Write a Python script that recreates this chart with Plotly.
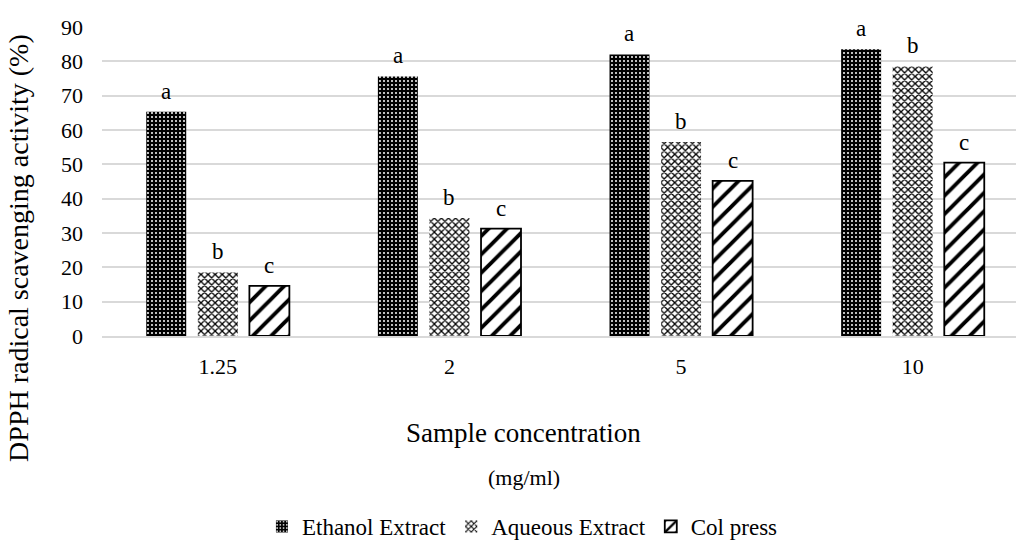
import plotly.graph_objects as go

# Sample concentrations (mg/ml)
concentrations = ["1.25", "2", "5", "10"]

# DPPH radical scavenging activity (%)
ethanol_extract = [65.3, 75.6, 82.0, 83.5]
aqueous_extract = [18.5, 34.4, 56.5, 78.6]
col_press = [14.6, 31.3, 45.2, 50.5]

# Significance letters shown above each bar
ethanol_letters = ["a", "a", "a", "a"]
aqueous_letters = ["b", "b", "b", "b"]
col_press_letters = ["c", "c", "c", "c"]

FONT = "Liberation Serif"
TEXT_COLOR = "#000000"
GRID_COLOR = "#d9d9d9"

BARGAP = 0.332
SLOT = (1 - BARGAP) / 3

fig = go.Figure()

fig.add_trace(go.Bar(
    name="Ethanol Extract",
    x=concentrations,
    y=ethanol_extract,
    marker=dict(
        color="#000000",
        line=dict(width=0),
        pattern=dict(shape=".", fgcolor="#ffffff", bgcolor="#000000",
                     size=4, solidity=0.2, fillmode="replace"),
    ),
))
fig.add_trace(go.Bar(
    name="Aqueous Extract",
    x=concentrations,
    y=aqueous_extract,
    marker=dict(
        color="#ffffff",
        line=dict(width=0),
        pattern=dict(shape="x", fgcolor="#000000", bgcolor="#ffffff",
                     size=5, solidity=0.45, fillmode="replace"),
    ),
))
fig.add_trace(go.Bar(
    name="Col press",
    x=concentrations,
    y=col_press,
    marker=dict(
        color="#ffffff",
        line=dict(width=1.8, color="#000000"),
        pattern=dict(shape="/", fgcolor="#000000", bgcolor="#ffffff",
                     size=13, solidity=0.3, fillmode="replace"),
    ),
))

# Letters above the bars
annotations = []
for k, (vals, letters) in enumerate([
    (ethanol_extract, ethanol_letters),
    (aqueous_extract, aqueous_letters),
    (col_press, col_press_letters),
]):
    for i, (v, t) in enumerate(zip(vals, letters)):
        annotations.append(dict(
            x=i + (k - 1) * SLOT, y=v, xref="x", yref="y",
            text=t, showarrow=False, yanchor="bottom", yshift=6,
            font=dict(family=FONT, size=23, color=TEXT_COLOR),
        ))

# Axis titles
annotations.append(dict(
    x=-0.0921, y=0.2845, xref="paper", yref="paper",
    text="DPPH radical scavenging activity (%)", textangle=-90,
    showarrow=False, xanchor="center", yanchor="middle",
    font=dict(family=FONT, size=28, color=TEXT_COLOR),
))
annotations.append(dict(
    x=0.4612, y=-0.3136, xref="paper", yref="paper",
    text="Sample concentration", showarrow=False,
    xanchor="center", yanchor="middle",
    font=dict(family=FONT, size=27, color=TEXT_COLOR),
))
annotations.append(dict(
    x=0.4612, y=-0.459, xref="paper", yref="paper",
    text="(mg/ml)", showarrow=False,
    xanchor="center", yanchor="middle",
    font=dict(family=FONT, size=22, color=TEXT_COLOR),
))

fig.update_layout(
    width=1016,
    height=548,
    margin=dict(l=102, r=0, t=27, b=212),
    paper_bgcolor="#ffffff",
    plot_bgcolor="#ffffff",
    barmode="group",
    bargap=BARGAP,
    bargroupgap=0.225,
    font=dict(family=FONT, size=22, color=TEXT_COLOR),
    showlegend=True,
    legend=dict(
        orientation="h",
        x=0.46, y=-0.6175, xanchor="center", yanchor="middle",
        font=dict(family=FONT, size=23, color=TEXT_COLOR),
        itemwidth=30,
    ),
    annotations=annotations,
)

fig.update_xaxes(
    type="category",
    range=[-0.5, 3.446],
    showgrid=False,
    showline=True,
    linecolor=GRID_COLOR,
    linewidth=1.5,
    ticks="",
    ticklabelstandoff=10,
    tickfont=dict(family=FONT, size=22, color=TEXT_COLOR),
    zeroline=False,
)
fig.update_yaxes(
    range=[0, 90],
    dtick=10,
    showgrid=True,
    gridcolor=GRID_COLOR,
    gridwidth=1.5,
    zeroline=False,
    showline=False,
    ticks="",
    ticklabelstandoff=18,
    tickfont=dict(family=FONT, size=22, color=TEXT_COLOR),
)

fig.write_html("out.html")
